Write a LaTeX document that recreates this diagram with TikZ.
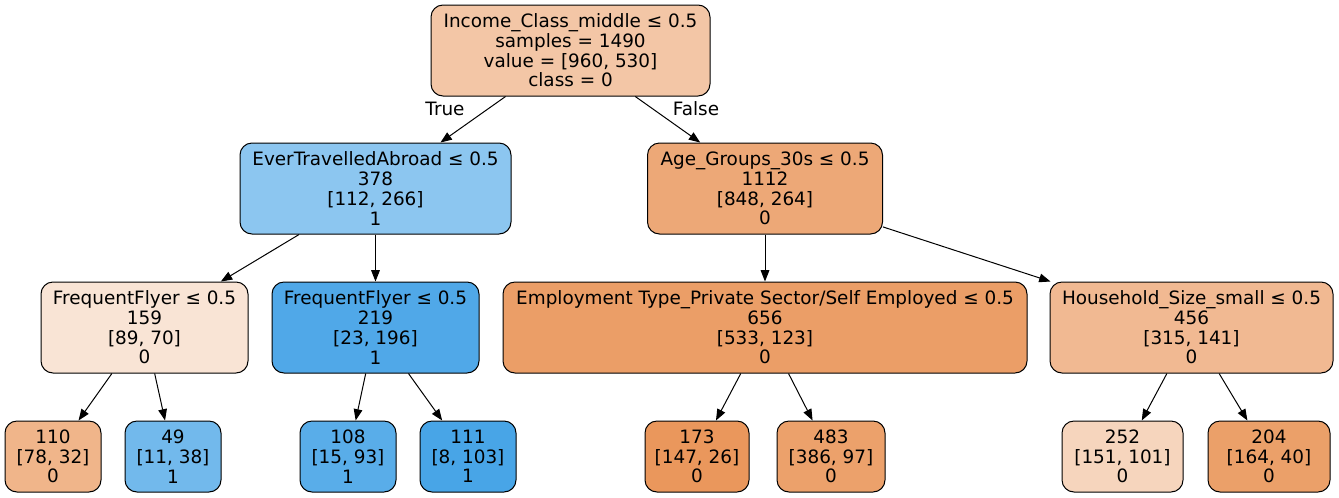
\documentclass[tikz,border=0pt]{standalone}
\usepackage{fontspec}
\setmainfont{DejaVu Sans}
\usetikzlibrary{arrows.meta}
\definecolor{cRoot}{RGB}{243,198,166}
\definecolor{cEver}{RGB}{140,198,240}
\definecolor{cAge}{RGB}{237,168,119}
\definecolor{cFlyA}{RGB}{249,228,213}
\definecolor{cFlyB}{RGB}{80,168,232}
\definecolor{cEmp}{RGB}{235,158,103}
\definecolor{cHouse}{RGB}{241,185,146}
\definecolor{cLfA}{RGB}{240,181,138}
\definecolor{cLfB}{RGB}{114,185,236}
\definecolor{cLfC}{RGB}{89,173,233}
\definecolor{cLfD}{RGB}{72,165,231}
\definecolor{cLfE}{RGB}{234,151,92}
\definecolor{cLfF}{RGB}{236,161,107}
\definecolor{cLfG}{RGB}{246,213,189}
\definecolor{cLfH}{RGB}{235,160,105}

\begin{document}
\begin{tikzpicture}[x=0.75pt,y=-0.75pt,line width=0.75pt,
  tree/.style={draw,rounded corners=9pt,align=center,inner sep=0pt,font=\fontsize{13.8}{14.8}\selectfont},
  split/.style={tree,minimum height=68.25pt},
  leaf/.style={tree,minimum height=53.25pt},
  edge/.style={-{Triangle[length=8.5pt,width=6.5pt]}}]
\def\yZero{50.5}
\def\yOne{188.5}
\def\yTwo{327.5}
\def\yThree{456.5}
\useasboundingbox (0,0) rectangle (1339,497);
\path
(570.5,\yZero) node [split,fill=cRoot,minimum width=209.25pt] (root) {Income\_Class\_middle ≤ 0.5\\samples = 1490\\value = [960, 530]\\class = 0}
(375.5,\yOne) node [split,fill=cEver,minimum width=203.25pt] (ever) {EverTravelledAbroad ≤ 0.5\\378\\{[112, 266]}\\1}
(765,\yOne) node [split,fill=cAge,minimum width=176.25pt] (age) {Age\_Groups\_30s ≤ 0.5\\1112\\{[848, 264]}\\0}
(144.5,\yTwo) node [split,fill=cFlyA,minimum width=155.25pt] (flyA) {FrequentFlyer ≤ 0.5\\159\\{[89, 70]}\\0}
(375.5,\yTwo) node [split,fill=cFlyB,minimum width=155.25pt] (flyB) {FrequentFlyer ≤ 0.5\\219\\{[23, 196]}\\1}
(765,\yTwo) node [split,fill=cEmp,minimum width=393pt] (emp) {Employment Type\_Private Sector/Self Employed ≤ 0.5\\656\\{[533, 123]}\\0}
(1191.5,\yTwo) node [split,fill=cHouse,minimum width=212.25pt] (house) {Household\_Size\_small ≤ 0.5\\456\\{[315, 141]}\\0}
(53,\yThree) node [leaf,fill=cLfA,minimum width=72pt] (lfA) {110\\{[78, 32]}\\0}
(173,\yThree) node [leaf,fill=cLfB,minimum width=72pt] (lfB) {49\\{[11, 38]}\\1}
(348,\yThree) node [leaf,fill=cLfC,minimum width=72pt] (lfC) {108\\{[15, 93]}\\1}
(468,\yThree) node [leaf,fill=cLfD,minimum width=72pt] (lfD) {111\\{[8, 103]}\\1}
(697,\yThree) node [leaf,fill=cLfE,minimum width=78pt] (lfE) {173\\{[147, 26]}\\0}
(831,\yThree) node [leaf,fill=cLfF,minimum width=81pt] (lfF) {483\\{[386, 97]}\\0}
(1122.5,\yThree) node [leaf,fill=cLfG,minimum width=90.75pt] (lfG) {252\\{[151, 101]}\\0}
(1269,\yThree) node [leaf,fill=cLfH,minimum width=91.5pt] (lfH) {204\\{[164, 40]}\\0}
(445,109) node [font=\fontsize{13.8}{14.8}\selectfont] (lblTrue) {True}
(696,109) node [font=\fontsize{13.8}{14.8}\selectfont] (lblFalse) {False}
;

\begin{scope}[every path/.style={draw,edge}]
\path (root) -- (ever);
\path (root) -- (age);
\path (ever) -- (flyA);
\path (ever) -- (flyB);
\path (age) -- (emp);
\path (age) -- (house);
\path (flyA) -- (lfA);
\path (flyA) -- (lfB);
\path (flyB) -- (lfC);
\path (flyB) -- (lfD);
\path (emp) -- (lfE);
\path (emp) -- (lfF);
\path (house) -- (lfG);
\path (house) -- (lfH);
\end{scope}
\end{tikzpicture}
\end{document}
